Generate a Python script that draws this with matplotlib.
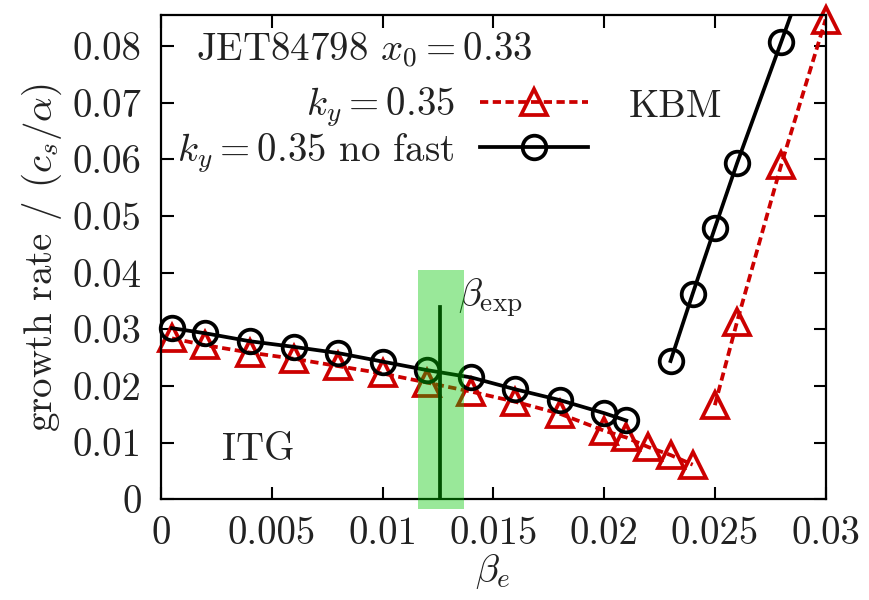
import numpy as np
import matplotlib
matplotlib.use("Agg")
import matplotlib.pyplot as plt
from matplotlib.patches import Rectangle
from matplotlib.ticker import FuncFormatter, MultipleLocator

plt.rcParams['font.family'] = 'serif'
plt.rcParams['font.serif'] = ['cmr10']
plt.rcParams['mathtext.fontset'] = 'cm'
plt.rcParams['axes.formatter.use_mathtext'] = True

# beta_e scan, nan = gap in the curve
beta_tri = [0.0005, 0.002, 0.004, 0.006, 0.008, 0.010, 0.012, 0.014, 0.016, 0.018,
            0.020, 0.021, 0.022, 0.023, 0.024, np.nan, 0.025, 0.026, 0.028, 0.030]
gamma_tri = [0.0284, 0.0272, 0.0259, 0.0248, 0.0235, 0.0222, 0.0206, 0.0190, 0.0172, 0.0151,
             0.0121, 0.0109, 0.0092, 0.0078, 0.0061, np.nan, 0.0166, 0.0313, 0.0591, 0.0847]

beta_circ = [0.0005, 0.002, 0.004, 0.006, 0.008, 0.010, 0.012, 0.014, 0.016, 0.018,
             0.020, 0.021, np.nan, 0.023, 0.024, 0.025, 0.026, 0.028, 0.030]
gamma_circ = [0.0302, 0.0293, 0.0279, 0.0269, 0.0258, 0.0243, 0.0228, 0.0215, 0.0194, 0.0175,
              0.0152, 0.0139, np.nan, 0.0244, 0.0363, 0.0479, 0.0593, 0.0808, 0.1025]

beta_exp = 0.0126
beta_exp_lo, beta_exp_hi = 0.0116, 0.0137

xmax, ymax = 0.03, 0.0855
red = '#cc0000'
txt = '#222222'
fs = 28
lw = 2.7
dash = (0, (2.2, 1.2))

fig = plt.figure(figsize=(8.7, 6.0), dpi=100)
ax = fig.add_axes([0.185, 0.168, 0.764, 0.807])

bt, gt = np.array(beta_tri), np.array(gamma_tri)
bc, gc = np.array(beta_circ), np.array(gamma_circ)

# lines (clipped) and markers (not clipped, only in range)
ax.plot(bt, gt, color=red, lw=lw, ls=dash, zorder=2)
ax.plot(bc, gc, color='black', lw=lw, zorder=3)
mt = gt <= ymax
mc = gc <= ymax
ax.plot(bt[mt], gt[mt], ls='none', marker='^', ms=19, mfc='none', mec=red, mew=lw,
        clip_on=False, zorder=2)
ax.plot(bc[mc], gc[mc], ls='none', marker='o', ms=17, mfc='none', mec='black', mew=lw,
        clip_on=False, zorder=3)

# legend proxies
h1, = ax.plot([], [], color=red, lw=lw, ls=dash, marker='^', ms=19,
              mfc='none', mec=red, mew=lw)
h2, = ax.plot([], [], color='black', lw=lw, marker='o', ms=17, mfc='none',
              mec='black', mew=lw)
leg = ax.legend([h1, h2], [r'$k_y=0.35$', r'$k_y=0.35$ no fast'],
                loc='upper right', bbox_to_anchor=(0.642, 0.855), frameon=False,
                markerfirst=False, numpoints=1, handlelength=2.77, handletextpad=0.65,
                labelspacing=0.05, borderpad=0, borderaxespad=0, fontsize=fs)
for t in leg.get_texts():
    t.set_color(txt)

# experimental beta
ax.plot([beta_exp, beta_exp], [0, 0.034], color='black', lw=lw, zorder=4)
ax.add_patch(Rectangle((beta_exp_lo, -0.0018), beta_exp_hi - beta_exp_lo, 0.0423,
                       facecolor=(0.0, 0.78, 0.0), alpha=0.4, edgecolor='none',
                       clip_on=False, zorder=5))

ax.text(0.0016, 0.0793, r'JET84798 $x_0=0.33$', fontsize=fs, color=txt, va='center')
ax.text(0.0211, 0.0692, 'KBM', fontsize=fs, color=txt, va='center')
ax.text(0.00275, 0.0087, 'ITG', fontsize=fs, color=txt, va='center')
ax.text(0.0134, 0.0355, r'$\beta_{\rm exp}$', fontsize=fs, color=txt, va='center')

ax.set_xlim(0, xmax)
ax.set_ylim(0, ymax)
ax.xaxis.set_major_locator(MultipleLocator(0.005))
ax.yaxis.set_major_locator(MultipleLocator(0.01))
fmt = FuncFormatter(lambda v, p: '%g' % round(v, 4))
ax.xaxis.set_major_formatter(fmt)
ax.yaxis.set_major_formatter(fmt)
ax.tick_params(direction='in', length=9, width=1.5, top=True, right=True,
               labelsize=fs, labelcolor=txt)
ax.tick_params(axis='x', pad=12)
ax.tick_params(axis='y', pad=14)
for s in ax.spines.values():
    s.set_linewidth(1.6)

ax.set_xlabel(r'$\beta_e$', fontsize=fs, color=txt, labelpad=0)
ax.set_ylabel(r'growth rate / $(c_s/\alpha)$', fontsize=fs, color=txt, labelpad=6)

fig.savefig('out.png', dpi=100)
